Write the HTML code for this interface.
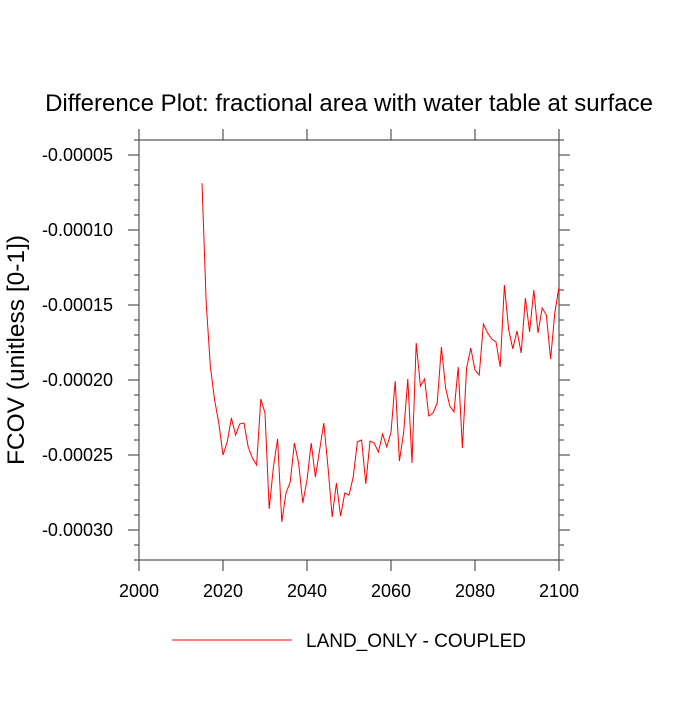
<!DOCTYPE html>
<html><head><meta charset="utf-8"><style>
body{margin:0;background:#fff;}
svg text{font-family:"Liberation Sans",sans-serif;fill:#000;}
</style></head><body>
<svg id="chart" width="700" height="700" xmlns="http://www.w3.org/2000/svg">
<text x="349" y="111" font-size="24" text-anchor="middle">Difference Plot: fractional area with water table at surface</text>
<text transform="translate(24,350) rotate(-90)" font-size="24.5" text-anchor="middle">FCOV  (unitless [0-1])</text>
<g id="axes"></g>
<polyline id="series" fill="none" stroke="#ff0000" stroke-width="1"/>
<line x1="172" y1="640" x2="292" y2="640" stroke="#ff0000" stroke-width="1"/>
<text x="306" y="647" font-size="19">LAND_ONLY - COUPLED</text>
</svg>
<script>
const years = [];
for (let y = 2015; y <= 2100; y++) years.push(y);
const values = [-6.87,-14.87,-19.13,-21.33,-22.87,-25.0,-24.13,-22.53,-23.67,-22.93,-22.87,-24.47,-25.2,-25.67,-21.27,-22.2,-28.6,-25.8,-23.93,-29.47,-27.53,-26.8,-24.2,-25.53,-28.2,-26.67,-24.2,-26.47,-24.67,-22.87,-25.8,-29.13,-26.87,-29.07,-27.53,-27.67,-26.47,-24.13,-24.0,-26.93,-24.07,-24.2,-24.8,-23.6,-24.47,-23.47,-20.07,-25.4,-23.53,-19.93,-25.53,-17.53,-20.4,-19.93,-22.4,-22.2,-21.53,-17.8,-20.53,-21.73,-22.13,-19.13,-24.53,-19.2,-17.87,-19.33,-19.67,-16.27,-16.87,-17.27,-17.47,-19.13,-13.67,-16.6,-17.93,-16.73,-18.2,-14.53,-16.8,-14.0,-16.87,-15.2,-15.67,-18.6,-15.53,-13.8];
const xTicks = [2000,2020,2040,2060,2080,2100];
const yTicks = [-5,-10,-15,-20,-25,-30];
const yTickLabels = ["-0.00005","-0.00010","-0.00015","-0.00020","-0.00025","-0.00030"];
const L=139,R=559,T=140,B=560, X0=2000,X1=2100, Y0=-32, Y1=-4;
const sx = v => L + (v-X0)/(X1-X0)*(R-L);
const sy = v => B - (v-Y0)/(Y1-Y0)*(B-T);
const NS="http://www.w3.org/2000/svg";
const ax=document.getElementById('axes');
function ln(x1,y1,x2,y2,name){const e=document.createElementNS(NS,'line');
e.setAttribute('x1',x1);e.setAttribute('y1',y1);e.setAttribute('x2',x2);e.setAttribute('y2',y2);
e.setAttribute('stroke','#555');e.setAttribute('stroke-width','1.2');


ax.appendChild(e);}
function tx(x,y,s,anchor,name){const e=document.createElementNS(NS,'text');
e.setAttribute('x',x);e.setAttribute('y',y);e.setAttribute('font-size','18');e.setAttribute('text-anchor',anchor);e.textContent=s;


ax.appendChild(e);}
ln(L,T,R,T,'plot-frame-top');ln(L,B,R,B,'plot-frame-bottom');ln(L,T,L,B,'plot-frame-left');ln(R,T,R,B,'plot-frame-right');
xTicks.forEach(v=>{const x=sx(v);ln(x,B,x,B+11,'x-tick');ln(x,T,x,T-11,'x-tick-top');tx(x,B+37,String(v),'middle','x-tick-label');});
for(let v=Y0;v<=Y1;v++){const y=sy(v);const maj=yTicks.includes(v);const len=maj?11:5;
ln(L,y,L-len,y,'y-tick');ln(R,y,R+len,y,'y-tick-right');}
yTicks.forEach((v,i)=>{tx(L-26,sy(v)+6,yTickLabels[i],'end','y-tick-label');});
document.getElementById('series').setAttribute('points',years.map((y,i)=>sx(y).toFixed(1)+','+sy(values[i]).toFixed(1)).join(' '));
</script>
</body></html>
